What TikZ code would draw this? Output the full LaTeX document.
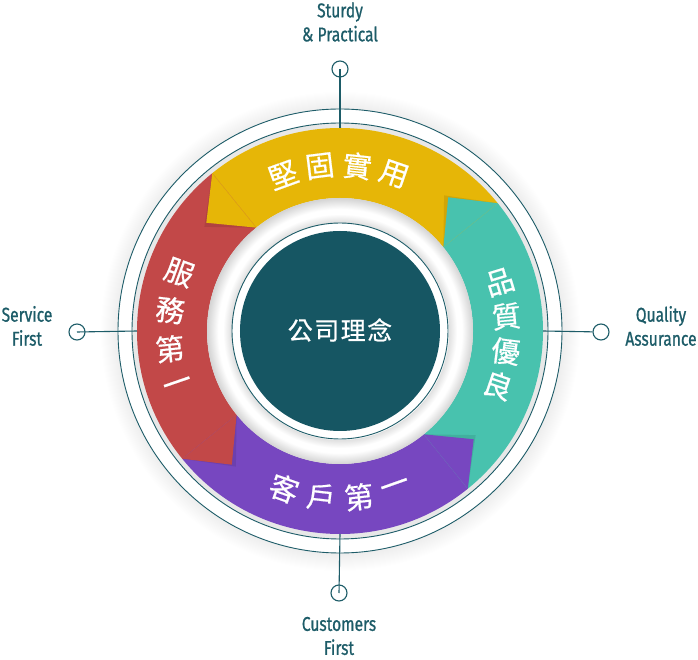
\documentclass[tikz,border=0pt]{standalone}
\usepackage{fontspec}
\usepackage{tikz}
\newfontfamily\cjk{Noto Sans CJK TC}[FakeBold=0.6]
\newfontfamily\labelfont{Fira Sans}[FakeStretch=0.78, FakeBold=0.8]
\definecolor{yellowc}{HTML}{E6B607}
\definecolor{tealc}{HTML}{48C2AE}
\definecolor{purplec}{HTML}{7747C0}
\definecolor{redc}{HTML}{C24848}
\definecolor{corec}{HTML}{165663}
\definecolor{linec}{HTML}{1D5C68}
\pgfdeclareradialshading{halo}{\pgfpoint{0bp}{0bp}}{color(0bp)=(black!7); color(23.1bp)=(black!7); color(25bp)=(white); color(50bp)=(white)}
\pgfdeclareradialshading{hollow}{\pgfpoint{0bp}{0bp}}{color(0bp)=(white); color(20.3bp)=(white); color(20.5bp)=(black!12); color(22bp)=(white); color(22.9bp)=(white); color(25bp)=(black!17); color(50bp)=(black!17)}

\begin{document}
\begin{tikzpicture}[x=1pt, y=1pt,
  ring/.style={draw=linec, line width=0.9pt},
  wire/.style={draw=linec, line width=1.1pt},
  pin/.style={circle, draw=linec, line width=1.1pt, minimum size=16pt, inner sep=0pt},
  bandtext/.style={text=white, font=\cjk\fontsize{29}{29}\selectfont, inner sep=0pt},
  labeltext/.style={text=linec, font=\labelfont\fontsize{20}{24}\selectfont, align=center, inner sep=0pt},
  flapshadow/.style={fill=black, opacity=0.09}]
  \useasboundingbox (-340,-329) rectangle (358,331);

  % outer rings
  \shade[shading=halo] (0,0) circle (240);
  \fill[white] (0,0) circle (222);
  \draw[ring] (0,0) circle (222);
  \fill[black!9] (0,0) circle (208);
  \draw[ring] (0,0) circle (208);

  % bands
  \fill[yellowc] (39:203) arc[start angle=39, end angle=129, radius=203] -- (129:133) arc[start angle=129, end angle=39, radius=133] -- cycle;
  \fill[tealc] (-51:203) arc[start angle=-51, end angle=39, radius=203] -- (39:133) arc[start angle=39, end angle=-51, radius=133] -- cycle;
  \fill[purplec] (-141:203) arc[start angle=-141, end angle=-51, radius=203] -- (-51:133) arc[start angle=-51, end angle=-141, radius=133] -- cycle;
  \fill[redc] (129:203) arc[start angle=129, end angle=219, radius=203] -- (219:133) arc[start angle=219, end angle=129, radius=133] -- cycle;

  % flaps
  \fill[flapshadow] (39:203) -- (52.5:171) -- (39:133) -- cycle;
  \fill[tealc] (39:203) -- (51:172) -- (39:133) -- cycle;
  \draw[tealc!80!yellowc, line width=0.4pt] (39:203) -- (39:133);
  \fill[flapshadow] (-51:203) -- (-37.5:171) -- (-51:133) -- cycle;
  \fill[purplec] (-51:203) -- (-39:172) -- (-51:133) -- cycle;
  \draw[purplec!80!tealc, line width=0.4pt] (-51:203) -- (-51:133);
  \fill[flapshadow] (219:203) -- (232.5:171) -- (219:133) -- cycle;
  \fill[redc] (219:203) -- (231:172) -- (219:133) -- cycle;
  \draw[redc!80!purplec, line width=0.4pt] (219:203) -- (219:133);
  \fill[flapshadow] (129:203) -- (142.5:171) -- (129:133) -- cycle;
  \fill[yellowc] (129:203) -- (141:172) -- (129:133) -- cycle;
  \draw[yellowc!80!redc, line width=0.4pt] (129:203) -- (129:133);

  % inner hollow and core
  \shade[shading=hollow] (0,0) circle (133);
  \draw[ring] (0,0) circle (108);
  \fill[corec] (0,0) circle (100);
  \node[text=white, font=\cjk\fontsize{25}{25}\selectfont] (core) at (0,1) {公\hspace{1.5pt}司\hspace{1.5pt}理\hspace{1.5pt}念};

  % band texts
  \node[bandtext, rotate=20] (top1) at (110:166) {堅};
  \node[bandtext, rotate=7] (top2) at (97:166) {固};
  \node[bandtext, rotate=-6] (top3) at (84:166) {實};
  \node[bandtext, rotate=-19] (top4) at (71:166) {用};
  \node[bandtext, rotate=17] (right1) at (17:167) {品};
  \node[bandtext, rotate=5] (right2) at (5:167) {質};
  \node[bandtext, rotate=-7] (right3) at (-7:167) {優};
  \node[bandtext, rotate=-19] (right4) at (-19:167) {良};
  \node[bandtext, rotate=-19.5] (bottom1) at (-109.5:167) {客};
  \node[bandtext, rotate=-6.5] (bottom2) at (-96.5:167) {戶};
  \node[bandtext, rotate=6.5] (bottom3) at (-83.5:167) {第};
  \node[bandtext, rotate=19.5] (bottom4) at (-70.5:167) {一};
  \node[bandtext, rotate=-20] (left1) at (160:171) {服};
  \node[bandtext, rotate=-7] (left2) at (173:171) {務};
  \node[bandtext, rotate=6] (left3) at (186:171) {第};
  \node[bandtext, rotate=19] (left4) at (199:171) {一};

  % pins and labels
  \coordinate (endT) at (0,203);
  \coordinate (endR) at (203,0);
  \coordinate (endB) at (0,-203);
  \coordinate (endL) at (-203,0);
  \node[pin] (pinT) at (0,262) {};
  \node[pin] (pinR) at (261,-1) {};
  \node[pin] (pinB) at (-1,-262) {};
  \node[pin] (pinL) at (-263,-1) {};
  \draw[wire] (endT) -- (pinT.center);
  \draw[wire] (endR) -- (pinR);
  \draw[wire] (endB) -- (pinB.center);
  \draw[wire] (endL) -- (pinL.center);

  \node[labeltext] (sturdy) at (0,309) {Sturdy\\\& Practical};
  \node[labeltext] (quality) at (321,5) {Quality\\Assurance};
  \node[labeltext] (customers) at (-1,-305) {Customers\\First};
  \node[labeltext] (service) at (-313,5) {Service\\First};
\end{tikzpicture}
\end{document}
